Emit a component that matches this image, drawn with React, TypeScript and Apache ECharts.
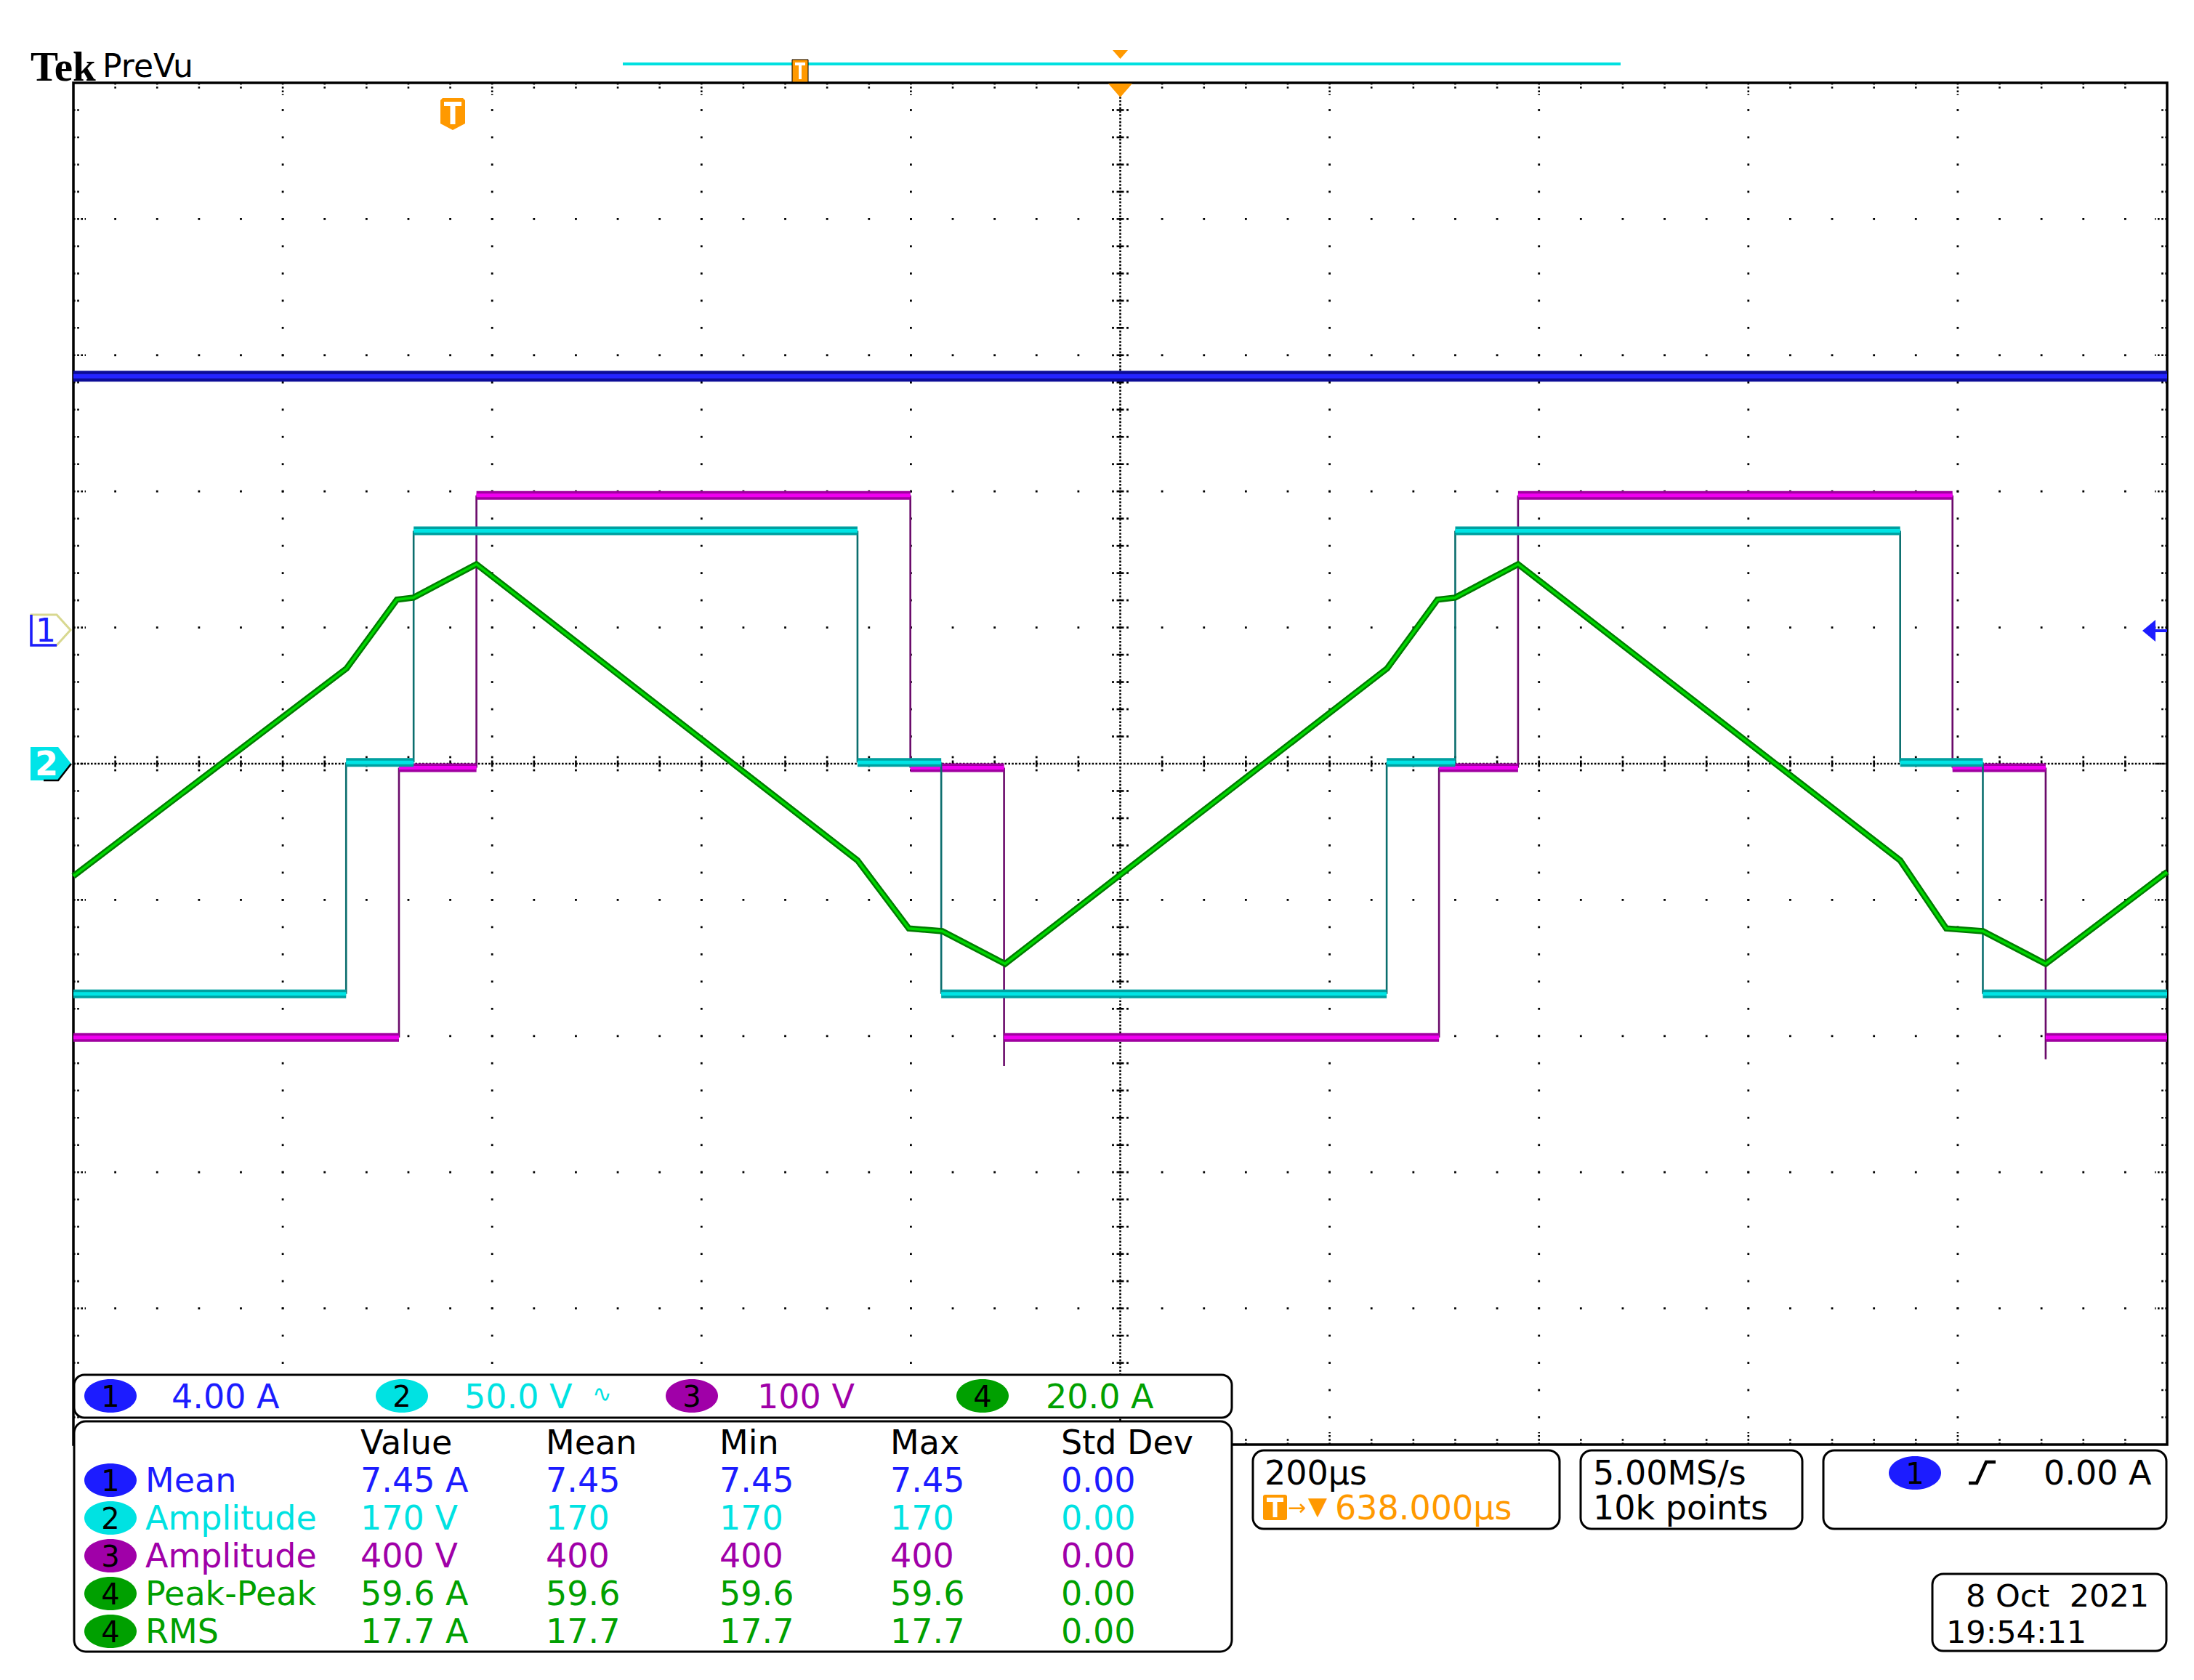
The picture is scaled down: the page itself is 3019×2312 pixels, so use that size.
import React, { useEffect, useRef } from 'react';
import * as echarts from 'echarts';

// ---------- data (time in µs relative to screen centre, 200 µs/div) ----------
const ch1Time = [-1000, 1000];
const ch1Values = [7.38, 7.38]; // A

const ch2EdgeTimes = [-739.5, -675, -251, -171, 254.5, 320, 745, 824];
const ch2Levels = [-84.5, 0.5, 85.5, 0.5, -84.5, 0.5, 85.5, 0.5, -84.5]; // V

const ch3EdgeTimes = [-689, -615, -200.5, -111, 304.5, 380, 795, 884];
const ch3Levels = [-201, -3, 197, -3, -201, -3, 197, -3, -201]; // V
const ch3EdgeExtremes = [null, null, null, -222, null, null, null, -217];

const ch4Time = [-1000, -739, -691, -675, -615, -251, -202, -170, -110, 255, 303, 320, 380, 745, 789, 824, 884, 1000];
const ch4Values = [-16.5, 14.0, 24.1, 24.4, 29.3, -14.2, -24.2, -24.6, -29.4, 14.0, 24.1, 24.4, 29.3, -14.2, -24.2, -24.6, -29.4, -15.9]; // A

// channel settings
const chScale = [4, 50, 100, 20];
const chOffsetDiv = [1, 0, 0, 0];
const chLabels = ['4.00 A', '50.0 V', '100 V', '20.0 A'];
const chColors = ['#1c1cff', '#00e2e2', '#a000a8', '#00a000'];

// measurement table
const measHeaders = ['Value', 'Mean', 'Min', 'Max', 'Std Dev'];
const measChannel = [1, 2, 3, 4, 4];
const measName = ['Mean', 'Amplitude', 'Amplitude', 'Peak-Peak', 'RMS'];
const measValue = ['7.45 A', '170 V', '400 V', '59.6 A', '17.7 A'];
const measMean = ['7.45', '170', '400', '59.6', '17.7'];
const measMin = ['7.45', '170', '400', '59.6', '17.7'];
const measMax = ['7.45', '170', '400', '59.6', '17.7'];
const measStdDev = ['0.00', '0.00', '0.00', '0.00', '0.00'];

const timebaseText = '200µs';
const delayText = '638.000µs';
const sampleRateText = '5.00MS/s';
const recordText = '10k points';
const triggerLevelText = '0.00 A';
const dateText = '8 Oct  2021';
const timeText = '19:54:11';

// ---------- helpers ----------
function stepLevels(edges: number[], levels: number[]) {
  const out: any[] = [];
  for (let i = 0; i < levels.length; i++) {
    const t0 = i === 0 ? -1000 : edges[i - 1];
    const t1 = i === levels.length - 1 ? 1000 : edges[i];
    out.push([t0, levels[i]], [t1, levels[i]], [t1, null]);
  }
  return out;
}
function stepEdges(edges: number[], levels: number[], extremes?: (number | null)[]) {
  const out: any[] = [];
  edges.forEach((t, i) => {
    const a = levels[i];
    const b = extremes && extremes[i] != null ? (extremes[i] as number) : levels[i + 1];
    out.push([t, a], [t, b], [t, null]);
  });
  return out;
}
function lineSeries(data: any[], yAxisIndex: number, color: string, width: number) {
  return {
    type: 'line', data, xAxisIndex: 0, yAxisIndex, showSymbol: false, symbol: 'none', silent: true,
    connectNulls: false, clip: true, z: 2, emphasis: { disabled: true },
    lineStyle: { color, width, cap: 'butt', join: 'miter' },
  };
}

const FONT = '"DejaVu Sans"';
const ORANGE = '#ff9900';
function txt(text: string, x: number, y: number, fill: string, size = 46, align = 'left', weight = 'normal', family = FONT) {
  return {
    type: 'text', x, y, z: 100, silent: true,
    style: { text, fill, font: `${weight} ${size}px ${family}`, align, textAlign: align, verticalAlign: 'middle', textVerticalAlign: 'middle' },
  };
}
function box(x: number, y: number, w: number, h: number, r = 15) {
  return { type: 'rect', z: 99, silent: true, shape: { x, y, width: w, height: h, r }, style: { fill: '#fff', stroke: '#000', lineWidth: 3 } };
}
function badge(cx: number, cy: number, ch: number) {
  return [
    { type: 'ellipse', z: 100, silent: true, shape: { cx, cy, rx: 36, ry: 23 }, style: { fill: chColors[ch - 1] } },
    txt(String(ch), cx, cy + 1, '#000', 40, 'center'),
  ];
}

function graticule(params: any, api: any) {
  const c = (t: number, d: number) => api.coord([t, d]);
  const ch: any[] = [];
  const [x0, y0] = c(-1000, 5);
  const [x1, y1] = c(1000, -5);
  const [cx, cy] = c(0, 0);
  const dot = 2.8;
  const D = (x: number, y: number) => ch.push({ type: 'rect', shape: { x: x - dot / 2, y: y - dot / 2, width: dot, height: dot }, style: { fill: '#000' } });
  const L = (xa: number, ya: number, xb: number, yb: number, dash?: number[], w = 2.6) =>
    ch.push({ type: 'line', shape: { x1: xa, y1: ya, x2: xb, y2: yb }, style: { stroke: '#000', lineWidth: w, lineDash: dash || null } });
  for (let k = 1; k < 10; k++) {
    if (k === 5) continue;
    const t = -1000 + 200 * k;
    const d = -5 + k;
    for (let j = 1; j < 50; j++) {
      const p = c(t, -5 + 0.2 * j); D(p[0], p[1]);
      const q = c(-1000 + 40 * j, d); D(q[0], q[1]);
    }
  }
  L(cx, y0, cx, y1, [2.6, 2.2]);
  L(x0, cy, x1, cy, [2.6, 2.2]);
  for (let j = 1; j < 50; j++) {
    if (j === 25) continue;
    const px = c(-1000 + 40 * j, 0)[0];
    L(px, cy - 4.5, px, cy + 4.5);
    D(px, cy - 9); D(px, cy + 9);
    const py = c(0, -5 + 0.2 * j)[1];
    L(cx - 5, py, cx + 5, py);
    D(cx - 10, py); D(cx + 10, py);
  }
  for (let j = 1; j < 50; j++) {
    const len = j % 5 === 0 ? 17 : 9;
    const px = c(-1000 + 40 * j, 0)[0];
    const py = c(0, -5 + 0.2 * j)[1];
    L(px, y0, px, y0 + len, [2.6, 2.6]);
    L(px, y1, px, y1 - len, [2.6, 2.6]);
    L(x0, py, x0 + len, py, [2.6, 2.6]);
    L(x1, py, x1 - len, py, [2.6, 2.6]);
  }
  ch.push({ type: 'rect', shape: { x: x0, y: y0, width: x1 - x0, height: y1 - y0 }, style: { fill: 'none', stroke: '#000', lineWidth: 3.5 } });
  return { type: 'group', children: ch };
}

function buildOption() {
  const yAxes: any[] = [{ type: 'value', min: -5, max: 5, show: false }];
  chScale.forEach((s, i) => yAxes.push({ type: 'value', min: (-5 - chOffsetDiv[i]) * s, max: (5 - chOffsetDiv[i]) * s, show: false }));

  const ch1Data = ch1Time.map((t, i) => [t, ch1Values[i]]);
  const ch4Data = ch4Time.map((t, i) => [t, ch4Values[i]]);
  const ch2L = stepLevels(ch2EdgeTimes, ch2Levels);
  const ch2E = stepEdges(ch2EdgeTimes, ch2Levels);
  const ch3L = stepLevels(ch3EdgeTimes, ch3Levels);
  const ch3E = stepEdges(ch3EdgeTimes, ch3Levels, ch3EdgeExtremes);

  const series: any[] = [
    { type: 'custom', xAxisIndex: 0, yAxisIndex: 0, data: [[0, 0]], renderItem: graticule, silent: true, z: 1, clip: false },
    lineSeries(ch3E, 3, '#6a0a6a', 2.6),
    lineSeries(ch3L, 3, '#a000a0', 12),
    lineSeries(ch3L, 3, '#f000f0', 5),
    lineSeries(ch2E, 2, '#0b6e6e', 2.6),
    lineSeries(ch2L, 2, '#00a0a0', 12),
    lineSeries(ch2L, 2, '#00e4e4', 5),
    lineSeries(ch1Data, 1, '#0c0c96', 15),
    lineSeries(ch1Data, 1, '#2424ff', 6),
    lineSeries(ch4Data, 4, '#007c00', 8.5),
    lineSeries(ch4Data, 4, '#00d800', 3.5),
  ];

  const g: any[] = [];
  // header
  g.push(txt('Tek', 42, 91, '#000', 57, 'left', 'bold', '"Liberation Serif"'));
  g.push(txt('PreVu', 141, 90, '#000', 44));
  // record view bar
  g.push({ type: 'line', z: 100, silent: true, shape: { x1: 857, y1: 88, x2: 2230, y2: 88 }, style: { stroke: '#00e0e0', lineWidth: 4 } });
  g.push({ type: 'rect', z: 101, silent: true, shape: { x: 1090, y: 82, width: 22, height: 31 }, style: { fill: ORANGE, stroke: '#000', lineWidth: 1 } });
  g.push({ type: 'rect', z: 102, silent: true, shape: { x: 1094, y: 86, width: 14, height: 4 }, style: { fill: '#fff' } });
  g.push({ type: 'rect', z: 102, silent: true, shape: { x: 1099, y: 86, width: 4, height: 23 }, style: { fill: '#fff' } });
  g.push({ type: 'polygon', z: 100, silent: true, shape: { points: [[1531, 69], [1552, 69], [1541.5, 81]] }, style: { fill: ORANGE } });
  g.push({ type: 'polygon', z: 100, silent: true, shape: { points: [[1525, 115], [1558, 115], [1541.5, 134]] }, style: { fill: ORANGE } });
  // trigger position marker
  g.push({ type: 'polygon', z: 100, silent: true, shape: { points: [[606, 138], [609, 135], [637, 135], [640, 138], [640, 170], [623, 179], [606, 170]] }, style: { fill: ORANGE } });
  g.push({ type: 'rect', z: 101, silent: true, shape: { x: 611, y: 140, width: 24, height: 6 }, style: { fill: '#fff' } });
  g.push({ type: 'rect', z: 101, silent: true, shape: { x: 619.5, y: 140, width: 7, height: 31 }, style: { fill: '#fff' } });
  // channel markers
  g.push({ type: 'polygon', z: 100, silent: true, shape: { points: [[43, 846], [78, 846], [97, 867], [78, 888], [43, 888]] }, style: { fill: '#fff', stroke: '#d8d890', lineWidth: 3 } });
  g.push({ type: 'polyline', z: 101, silent: true, shape: { points: [[43, 846], [43, 888], [78, 888]] }, style: { stroke: '#1c1cff', lineWidth: 3.5, fill: null } });
  g.push(txt('1', 63, 867, '#1c1cff', 44, 'center'));
  g.push({ type: 'polygon', z: 100, silent: true, shape: { points: [[42, 1028], [80, 1028], [98, 1051], [80, 1074], [42, 1074]] }, style: { fill: '#00e4e8' } });
  g.push({ type: 'polyline', z: 101, silent: true, shape: { points: [[98, 1051], [80, 1074], [60, 1074]] }, style: { stroke: '#000', lineWidth: 2.5, fill: null } });
  g.push(txt('2', 64, 1051, '#fff', 46, 'center', 'bold'));
  // trigger level arrow
  g.push({ type: 'polygon', z: 100, silent: true, shape: { points: [[2948, 868], [2966, 853], [2966, 883]] }, style: { fill: '#1c1cff' } });
  g.push({ type: 'line', z: 100, silent: true, shape: { x1: 2964, y1: 868, x2: 2982, y2: 868 }, style: { stroke: '#1c1cff', lineWidth: 4 } });

  // channel readout
  g.push(box(102, 1892, 1593, 59, 14));
  const badgeX = [152, 553, 952, 1352];
  const labelX = [236, 639, 1042, 1439];
  chLabels.forEach((l, i) => {
    g.push(...badge(badgeX[i], 1921, i + 1));
    g.push(txt(l, labelX[i], 1922, chColors[i]));
  });
  g.push(txt('∿', 815, 1918, chColors[1], 32));

  // measurement table
  g.push(box(102, 1956, 1593, 317, 16));
  const colX = [496, 751, 990, 1225, 1460];
  measHeaders.forEach((h, i) => g.push(txt(h, colX[i], 1985, '#000')));
  const rowY = [2037, 2089, 2141, 2193, 2245];
  measName.forEach((n, r) => {
    const ch = measChannel[r];
    const col = chColors[ch - 1];
    g.push(...badge(152, rowY[r], ch));
    g.push(txt(n, 200, rowY[r], col));
    [measValue, measMean, measMin, measMax, measStdDev].forEach((arr, k) => g.push(txt(arr[r], colX[k], rowY[r], col)));
  });

  // timebase box
  g.push(box(1724, 1996, 422, 108));
  g.push(txt(timebaseText, 1740, 2027, '#000'));
  g.push({ type: 'rect', z: 100, silent: true, shape: { x: 1738, y: 2057, width: 33, height: 35, r: 3 }, style: { fill: ORANGE } });
  g.push({ type: 'rect', z: 101, silent: true, shape: { x: 1743, y: 2061, width: 23, height: 6 }, style: { fill: '#fff' } });
  g.push({ type: 'rect', z: 101, silent: true, shape: { x: 1751.5, y: 2061, width: 6, height: 27 }, style: { fill: '#fff' } });
  g.push(txt('→', 1772, 2074, ORANGE, 30));
  g.push(txt('▼', 1800, 2072, ORANGE, 34));
  g.push(txt(delayText, 1837, 2075, ORANGE));
  // sample box
  g.push(box(2175, 1996, 305, 108));
  g.push(txt(sampleRateText, 2192, 2027, '#000'));
  g.push(txt(recordText, 2192, 2075, '#000'));
  // trigger box
  g.push(box(2509, 1996, 472, 108));
  g.push(...badge(2635, 2027, 1));
  g.push({ type: 'polyline', z: 101, silent: true, shape: { points: [[2709, 2041], [2720, 2041], [2733, 2012], [2746, 2012]] }, style: { stroke: '#000', lineWidth: 4.5, fill: null } });
  g.push(txt(triggerLevelText, 2812, 2027, '#000'));
  // date box
  g.push(box(2659, 2166, 322, 106));
  g.push(txt(dateText, 2705, 2196, '#000', 43));
  g.push(txt(timeText, 2678, 2246, '#000', 43));

  return {
    animation: false,
    backgroundColor: '#fff',
    grid: { left: 101, top: 114, width: 2881, height: 1874, show: false },
    xAxis: [{ type: 'value', min: -1000, max: 1000, show: false }],
    yAxis: yAxes,
    series,
    graphic: { elements: g },
  };
}

export default function App() {
  const ref = useRef<HTMLDivElement>(null);
  useEffect(() => {
    const chart = echarts.init(ref.current as HTMLDivElement, null, { renderer: 'svg' });
    chart.setOption(buildOption() as any);
    return () => chart.dispose();
  }, []);
  return <div ref={ref} style={{ position: 'absolute', left: 0, top: 0, width: 3019, height: 2312, background: '#fff' }} />;
}
